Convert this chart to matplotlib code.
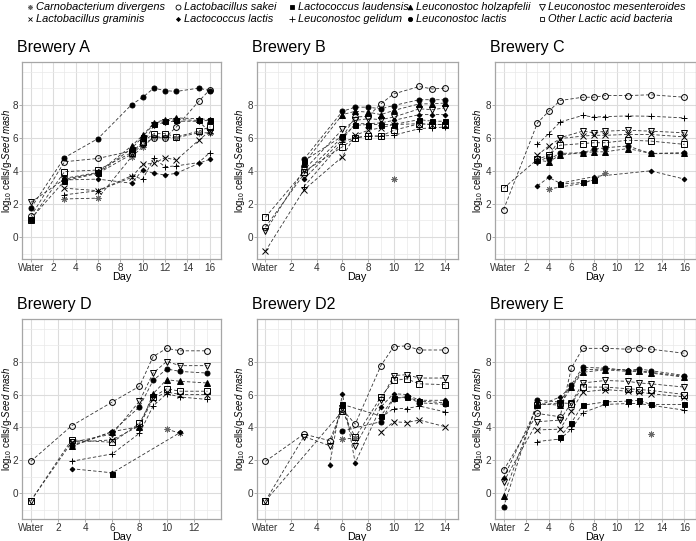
import numpy as np
import matplotlib.pyplot as plt

plt.rcParams['font.family'] = ['Liberation Sans', 'DejaVu Sans']
plt.rcParams['mathtext.fontset'] = 'custom'
plt.rcParams['mathtext.rm'] = 'Liberation Sans'
plt.rcParams['mathtext.it'] = 'Liberation Sans:italic'

N = np.nan

species = ['Carnobacterium divergens', 'Lactobacillus graminis', 'Lactobacillus sakei',
           'Lactococcus lactis', 'Lactococcus laudensis', 'Leuconostoc gelidum',
           'Leuconostoc holzapfelii', 'Leuconostoc lactis', 'Leuconostoc mesenteroides',
           'Other Lactic acid bacteria']

# values per brewery, one list per species in the order above (nan = not detected)
days_A = [0, 3, 6, 9, 10, 11, 12, 13, 15, 16]
brewery_A = [
    [N, 2.3, 2.35, 4.85, 5.45, 6.05, 6.05, 6.0, 6.3, 6.3],
    [N, 2.95, 2.8, 3.6, 4.4, 4.45, 4.8, 4.65, 5.85, 6.4],
    [1.25, 4.55, 4.75, 5.2, 5.6, 6.0, 6.0, 6.65, 8.2, 8.9],
    [N, 3.45, 3.5, 3.25, 4.05, 3.85, 3.75, 3.85, 4.45, 4.7],
    [1.1, 3.4, 3.85, 5.35, 6.05, 6.85, 7.0, 7.1, 7.05, 7.05],
    [N, 2.55, 2.8, 3.7, 3.5, 4.75, 4.25, 4.3, 4.5, 5.1],
    [N, 3.55, 3.9, 5.5, 6.15, 6.9, 7.1, 7.2, 7.15, 7.1],
    [1.75, 4.8, 5.95, 8.0, 8.45, 9.0, 8.85, 8.8, 9.0, 8.85],
    [2.1, 3.5, 3.85, 5.0, 5.6, 6.75, 6.95, 7.0, 7.0, 6.35],
    [1.05, 3.95, 4.05, 5.1, 5.75, 6.25, 6.25, 6.05, 6.4, 6.65],
]

days_B = [0, 3, 6, 7, 8, 9, 10, 12, 13, 14]
brewery_B = [
    [N, N, N, N, N, N, 3.5, N, N, N],
    [-0.85, 2.85, 4.85, 6.15, 6.45, 6.6, 6.8, 6.85, 6.8, 6.8],
    [0.6, 3.8, 6.05, 7.25, 7.3, 8.05, 8.65, 9.1, 8.95, 9.0],
    [N, 3.5, 5.9, 6.85, 6.85, 6.9, 7.05, 7.4, 7.4, 7.4],
    [N, 4.6, 6.1, 6.75, 6.8, 6.8, 6.8, 7.1, 7.0, 7.0],
    [N, 3.05, 5.75, 6.0, 6.1, 6.1, 6.15, 6.55, 6.6, 6.65],
    [N, 4.45, 7.4, 7.6, 7.55, 7.4, 7.65, 8.05, 8.05, 8.1],
    [N, 4.7, 7.6, 7.85, 7.85, 7.75, 7.95, 8.3, 8.3, 8.3],
    [0.35, 4.05, 6.5, 7.05, 7.15, 7.1, 7.25, 7.75, 7.7, 7.8],
    [1.2, 3.95, 5.45, 6.0, 6.1, 6.1, 6.45, 6.85, 6.8, 6.8],
]

days_C = [0, 3, 4, 5, 7, 8, 9, 11, 13, 16]
brewery_C = [
    [N, N, 2.9, N, 3.25, 3.45, 3.85, N, N, N],
    [N, 4.95, 5.5, 5.95, 6.1, 6.15, 6.15, 6.2, 6.2, 6.05],
    [1.65, 6.9, 7.6, 8.25, 8.45, 8.45, 8.55, 8.55, 8.6, 8.45],
    [N, 3.1, 3.6, 3.25, N, 3.65, N, N, 4.0, 3.5],
    [N, N, N, 3.2, 3.3, 3.45, N, N, N, N],
    [N, 5.6, 6.25, 6.95, 7.35, 7.25, 7.28, 7.32, 7.3, 7.2],
    [N, 4.65, 4.55, 4.95, 5.1, 5.15, 5.15, 5.35, 5.05, 5.05],
    [N, N, 4.7, 5.05, 5.1, 5.3, 5.4, 5.5, 5.05, 5.1],
    [N, 4.55, 4.85, 6.0, 6.4, 6.3, 6.4, 6.45, 6.4, 6.3],
    [2.95, 4.7, 4.95, 5.55, 5.65, 5.7, 5.7, 5.85, 5.8, 5.6],
]

days_D = [0, 3, 6, 8, 9, 10, 11, 13]
brewery_D = [
    [N, N, N, N, N, 3.9, 3.65, N],
    [N, 3.1, 3.25, 4.1, 5.75, 6.15, 6.0, 6.0],
    [1.95, 4.1, 5.55, 6.5, 8.3, 8.8, 8.65, 8.65],
    [N, 1.5, 1.25, N, N, N, 3.7, N],
    [N, N, 1.2, N, N, N, N, N],
    [N, 1.95, 2.4, 3.65, 5.3, 6.05, 5.85, 5.7],
    [N, 2.9, 3.75, 4.05, 6.05, 6.9, 6.8, 6.7],
    [N, 2.85, 3.75, 5.25, 6.85, 7.55, 7.4, 7.3],
    [-0.45, 3.1, 3.6, 5.6, 7.3, 8.0, 7.75, 7.75],
    [-0.45, 3.25, 3.1, 4.25, 5.85, 6.35, 6.2, 6.2],
]

days_D2 = [0, 3, 5, 6, 7, 9, 10, 11, 12, 14]
brewery_D2 = [
    [N, N, N, 3.3, 3.35, N, N, N, N, N],
    [N, N, N, N, N, 3.7, 4.35, 4.3, 4.45, 4.05],
    [1.95, 3.6, 3.2, 5.1, 4.2, 7.75, 8.9, 8.95, 8.7, 8.7],
    [N, N, 1.7, 6.05, 1.85, 5.25, 6.05, 6.0, 5.65, 5.65],
    [N, N, N, 5.4, N, 4.7, 5.8, 5.85, 5.6, 5.5],
    [N, N, N, N, N, 4.6, 5.15, 5.15, 5.3, 4.95],
    [N, N, N, N, N, N, N, N, N, N],
    [N, N, N, 3.8, N, 4.35, 5.75, 5.85, 5.5, 5.4],
    [-0.45, 3.45, 2.9, 5.2, 2.9, 5.65, 7.15, 7.2, 7.0, 7.0],
    [-0.45, N, N, 5.0, 3.4, 5.85, 6.85, 6.95, 6.65, 6.6],
]

days_E = [0, 3, 5, 6, 7, 9, 11, 12, 13, 16]
brewery_E = [
    [N, N, N, N, N, N, N, N, 3.6, N],
    [N, 3.85, 3.9, 5.0, 6.15, 6.3, 6.2, 6.15, 6.05, 5.85],
    [1.4, 4.85, 4.65, 7.6, 8.8, 8.8, 8.75, 8.85, 8.75, 8.5],
    [0.95, 5.3, 5.85, 6.5, 7.5, 7.55, 7.5, 7.45, 7.35, 7.1],
    [N, N, 3.4, 4.3, 5.35, 5.55, 5.6, 5.65, 5.4, 5.4],
    [N, 3.15, 3.3, 3.9, 4.9, 5.4, 5.45, 5.45, 5.35, 5.05],
    [-0.15, 5.45, 5.35, 6.45, 7.35, 7.5, 7.4, 7.4, 7.3, 7.05],
    [-0.85, 5.65, 5.55, 6.6, 7.65, 7.6, 7.45, 7.55, 7.45, 7.15],
    [0.7, 4.35, 4.45, 5.5, 6.7, 6.85, 6.8, 6.7, 6.65, 6.45],
    [N, 5.35, 5.5, 5.45, 6.45, 6.45, 6.35, 6.3, 6.25, 6.0],
]

# marker, size, filled, colour
styles = [
    ((8, 2, 0), 4.2, True, '#666666'),
    ('x', 3.8, True, 'black'),
    ('o', 4.2, False, 'black'),
    ('D', 2.4, True, 'black'),
    ('s', 3.6, True, 'black'),
    ('+', 4.6, True, 'black'),
    ('^', 4.0, True, 'black'),
    ('o', 3.6, True, 'black'),
    ('v', 4.4, False, 'black'),
    ('s', 4.0, False, 'black'),
]

W, H = 696, 541
fig = plt.figure(figsize=(W / 100, H / 100), dpi=100)

def rect(x0, y0, w, h):
    return [x0 / W, 1 - (y0 + h) / H, w / W, h / H]

# title, days, data, last day, left px, width px, top px, height px, y bottom limit
panels = [
    ('Brewery A', days_A, brewery_A, 16, 22.0, 199.0, 62, 197, -1.33),
    ('Brewery B', days_B, brewery_B, 14, 256.5, 201.3, 62, 197, -1.33),
    ('Brewery C', days_C, brewery_C, 16, 494.5, 201.3, 62, 197, -1.33),
    ('Brewery D', days_D, brewery_D, 13, 22.0, 199.0, 319, 199.5, -1.52),
    ('Brewery D2', days_D2, brewery_D2, 14, 256.5, 201.3, 319, 199.5, -1.52),
    ('Brewery E', days_E, brewery_E, 16, 494.5, 201.3, 319, 199.5, -1.52),
]

ylab = r'log$_{10}$ cells/g-$\mathit{Seed\ mash}$'

for title, days, data, xmax, x0, w, y0, h, ybot in panels:
    ax = fig.add_axes(rect(x0, y0, w, h))
    d = np.array(days, float)
    for vals, (m, ms, filled, col) in zip(data, styles):
        v = np.array(vals, float)
        ok = ~np.isnan(v)
        if not ok.any():
            continue
        ax.plot(d[ok], v[ok], color='#333333', lw=0.6, linestyle='--', dashes=(4, 2.5), zorder=2)
        ax.plot(d[ok], v[ok], ls='none', marker=m, ms=ms, mew=0.7,
                mec=col, mfc=col if filled else 'none', zorder=3)
    ax.set_xlim(-0.05 * xmax, 1.05 * xmax)
    ax.set_ylim(ybot, 10.58)
    ax.set_xticks(range(0, xmax + 1, 2))
    ax.set_xticklabels(['Water'] + [str(i) for i in range(2, xmax + 1, 2)])
    ax.set_xticks(range(0, xmax + 2), minor=True)
    ax.set_yticks([0, 2, 4, 6, 8])
    ax.set_yticks(range(-1, 11), minor=True)
    ax.grid(which='major', color='#DCDCDC', lw=0.8)
    ax.grid(which='minor', color='#E9E9E9', lw=0.5)
    ax.set_axisbelow(True)
    ax.tick_params(which='minor', length=0)
    ax.tick_params(which='major', length=2, width=0.6, color='#A0A0A0',
                   labelsize=7.2, labelcolor='#333333', pad=1)
    ax.tick_params(axis='y', pad=0.6)
    for s in ax.spines.values():
        s.set_color('#A6A6A6')
        s.set_linewidth(0.9)
    ax.set_xlabel('Day', fontsize=7.8, labelpad=-0.5)
    ax.set_ylabel(ylab, fontsize=6.9, va='center', ha='center', rotation_mode='default')
    ax.yaxis.set_label_coords((6.8 - x0) / w if x0 < 100 else -0.082, 0.5)
    fig.text((x0 - 5) / W, 1 - (y0 - 10) / H, title, fontsize=11.5, va='baseline')

# legend strip across the top
lax = fig.add_axes([0, 1 - 28 / H, 1, 28 / H])
lax.set_xlim(0, W)
lax.set_ylim(28, 0)
lax.axis('off')
col_x = [30, 178, 292, 410, 542]
row_y = [7, 19]
for i, (name, (m, ms, filled, col)) in enumerate(zip(species, styles)):
    cx = col_x[i // 2]
    cy = row_y[i % 2]
    lax.plot([cx], [cy], marker=m, ms=ms * 0.85, mew=0.6, mec=col,
             mfc=col if filled else 'none', ls='none')
    lax.text(cx + 6, cy, name, fontsize=7.9, style='italic', va='center', ha='left')

fig.savefig('out.png', dpi=100)
